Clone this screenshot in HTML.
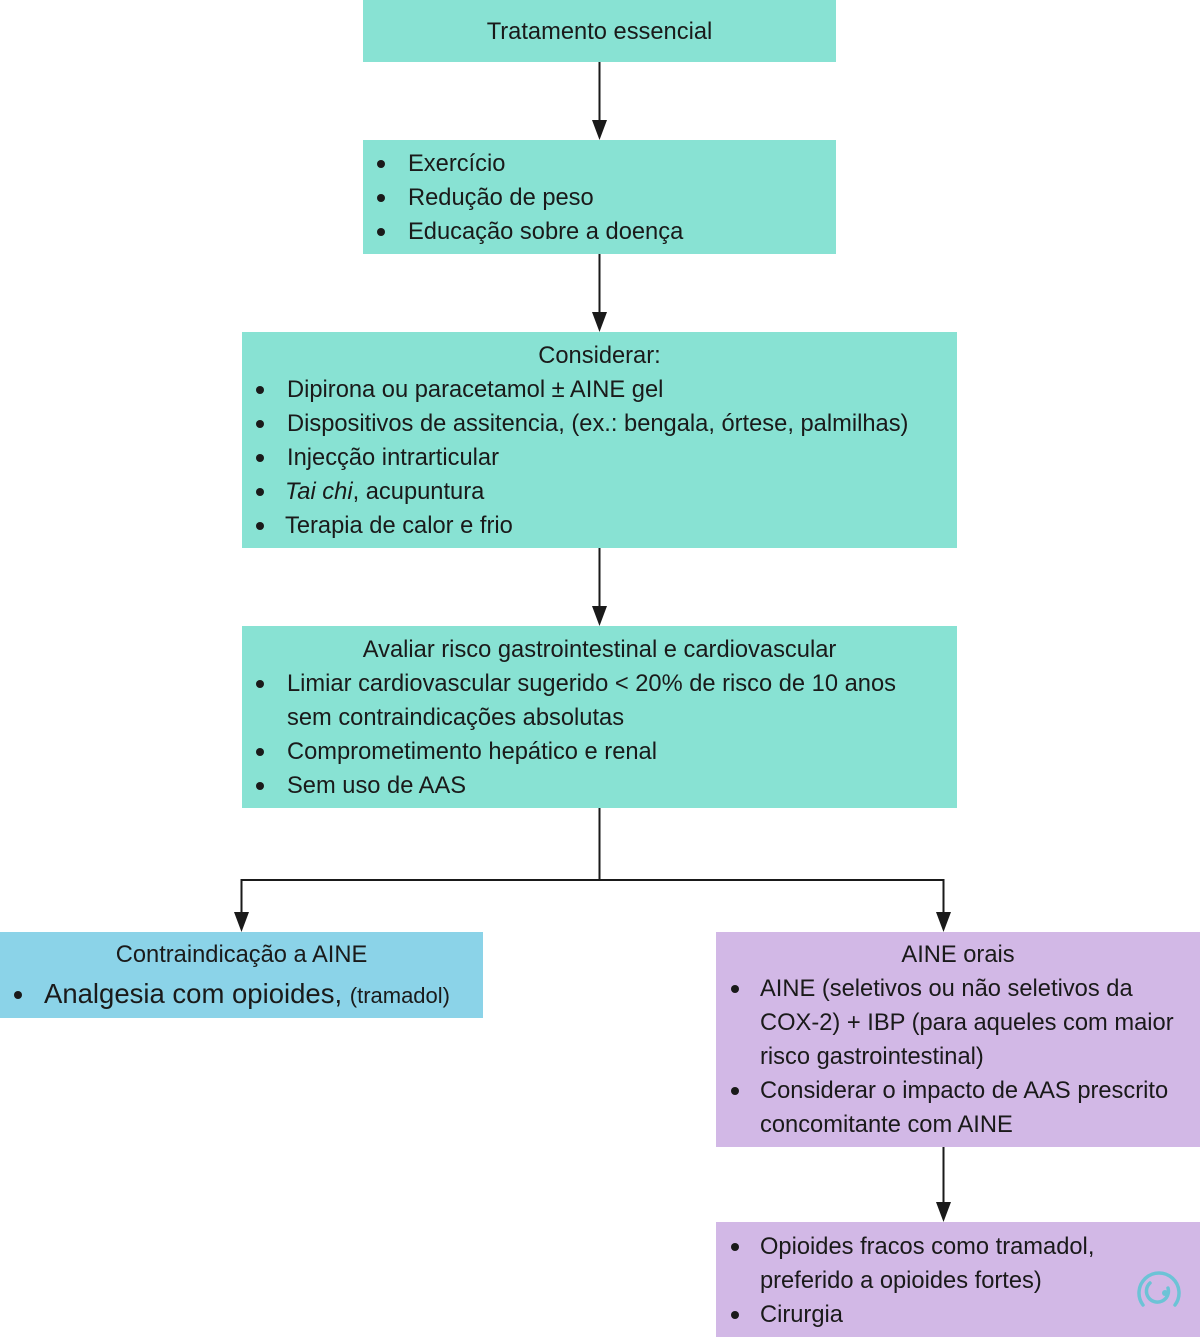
<!DOCTYPE html>
<html><head><meta charset="utf-8"><style>
body{margin:0;width:1200px;height:1337px;position:relative;background:#fff;font-family:"Liberation Sans",sans-serif;color:#1a1a1a;overflow:hidden}
.b{position:absolute}
.t{position:absolute;font-size:23.7px;line-height:34px;white-space:nowrap}
.c{text-align:center}
.d{position:absolute;width:8px;height:8px;border-radius:50%;background:#1a1a1a}
</style></head><body>
<div class="b" style="left:363px;top:0;width:473px;height:62px;background:#88e2d3"></div>
<div class="b" style="left:363px;top:140px;width:473px;height:114px;background:#88e2d3"></div>
<div class="b" style="left:242px;top:332px;width:715px;height:216px;background:#88e2d3"></div>
<div class="b" style="left:242px;top:626px;width:715px;height:182px;background:#88e2d3"></div>
<div class="b" style="left:0;top:932px;width:483px;height:86px;background:#8bd3e8"></div>
<div class="b" style="left:716px;top:932px;width:484px;height:215px;background:#d2b8e6"></div>
<div class="b" style="left:716px;top:1222px;width:484px;height:115px;background:#d2b8e6"></div>

<svg class="b" style="left:0;top:0" width="1200" height="1337">
<g stroke="#1a1a1a" stroke-width="2" fill="none">
<line x1="599.5" y1="62" x2="599.5" y2="126"/>
<line x1="599.5" y1="254" x2="599.5" y2="318"/>
<line x1="599.5" y1="548" x2="599.5" y2="612"/>
<polyline points="241.5,918 241.5,880 943.5,880 943.5,918"/>
<line x1="599.5" y1="808" x2="599.5" y2="880"/>
<line x1="943.5" y1="1147" x2="943.5" y2="1208"/>
</g>
<g fill="#1a1a1a">
<polygon points="592,120 607,120 599.5,140"/>
<polygon points="592,312 607,312 599.5,332"/>
<polygon points="592,606 607,606 599.5,626"/>
<polygon points="234,912 249,912 241.5,932"/>
<polygon points="936,912 951,912 943.5,932"/>
<polygon points="936,1202 951,1202 943.5,1222"/>
</g>
<g fill="none" stroke="#6cc3d6" stroke-width="3.5" stroke-linecap="round">
<path d="M1143,1305 A20,20 0 1 1 1175,1305"/>
<path d="M1150,1283 A11,11 0 1 0 1168,1288"/>
</g>
<circle cx="1165" cy="1293" r="3" fill="#6cc3d6"/>
</svg>

<div class="t c" style="left:363px;width:473px;top:15px">Tratamento essencial</div>

<div class="d" style="left:377px;top:160px"></div><div class="t" style="left:408px;top:147px">Exercício</div>
<div class="d" style="left:377px;top:194px"></div><div class="t" style="left:408px;top:181px">Redução de peso</div>
<div class="d" style="left:377px;top:228px"></div><div class="t" style="left:408px;top:215px">Educação sobre a doença</div>

<div class="t c" style="left:242px;width:715px;top:339px">Considerar:</div>
<div class="d" style="left:256px;top:386px"></div><div class="t" style="left:287px;top:373px">Dipirona ou paracetamol ± AINE gel</div>
<div class="d" style="left:256px;top:420px"></div><div class="t" style="left:287px;top:407px">Dispositivos de assitencia, (ex.: bengala, órtese, palmilhas)</div>
<div class="d" style="left:256px;top:454px"></div><div class="t" style="left:287px;top:441px">Injecção intrarticular</div>
<div class="d" style="left:256px;top:488px"></div><div class="t" style="left:285px;top:475px"><i>Tai chi</i>, acupuntura</div>
<div class="d" style="left:256px;top:522px"></div><div class="t" style="left:285px;top:509px">Terapia de calor e frio</div>

<div class="t c" style="left:242px;width:715px;top:633px">Avaliar risco gastrointestinal e cardiovascular</div>
<div class="d" style="left:256px;top:680px"></div><div class="t" style="left:287px;top:667px">Limiar cardiovascular sugerido &lt; 20% de risco de 10 anos</div>
<div class="t" style="left:287px;top:701px">sem contraindicações absolutas</div>
<div class="d" style="left:256px;top:748px"></div><div class="t" style="left:287px;top:735px">Comprometimento hepático e renal</div>
<div class="d" style="left:256px;top:782px"></div><div class="t" style="left:287px;top:769px">Sem uso de AAS</div>

<div class="t c" style="left:0;width:483px;top:938px">Contraindicação a AINE</div>
<div class="d" style="left:14px;top:991px"></div><div class="t" style="left:44px;top:977px;font-size:27.5px">Analgesia com opioides, <span style="font-size:22px">(tramadol)</span></div>

<div class="t c" style="left:716px;width:484px;top:938px">AINE orais</div>
<div class="d" style="left:731px;top:985px"></div><div class="t" style="left:760px;top:972px">AINE (seletivos ou não seletivos da</div>
<div class="t" style="left:760px;top:1006px">COX-2) + IBP (para aqueles com maior</div>
<div class="t" style="left:760px;top:1040px">risco gastrointestinal)</div>
<div class="d" style="left:731px;top:1087px"></div><div class="t" style="left:760px;top:1074px">Considerar o impacto de AAS prescrito</div>
<div class="t" style="left:760px;top:1108px">concomitante com AINE</div>

<div class="d" style="left:731px;top:1243px"></div><div class="t" style="left:760px;top:1230px">Opioides fracos como tramadol,</div>
<div class="t" style="left:760px;top:1264px">preferido a opioides fortes)</div>
<div class="d" style="left:731px;top:1311px"></div><div class="t" style="left:760px;top:1298px">Cirurgia</div>
</body></html>
